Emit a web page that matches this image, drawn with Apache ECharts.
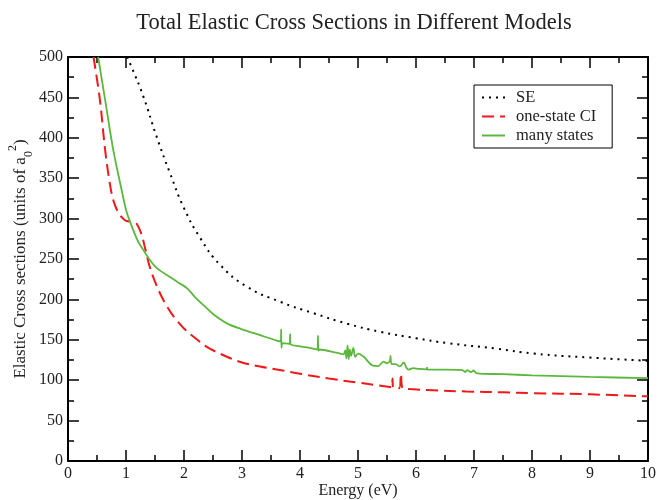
<!DOCTYPE html>
<html>
<head>
<meta charset="utf-8">
<script src="https://cdn.jsdelivr.net/npm/echarts@6/dist/echarts.min.js"></script>
<style>html,body{margin:0;padding:0;background:#fff;}#c{width:658px;height:500px;}</style>
</head>
<body>
<div id="c"></div>
<script>
var chartTitle = 'Total Elastic Cross Sections in Different Models';
var seriesNames = ['SE', 'one-state CI', 'many states'];
var xTicks = [0,1,2,3,4,5,6,7,8,9,10];
var yTicks = [0,50,100,150,200,250,300,350,400,450,500];

var seData = [[1.02,500],[1.1,487],[1.3,451],[1.53,401],[1.76,356],[2.0,313],[2.28,276],[2.62,243],[3.08,216],[3.66,197],[4.23,183],[4.81,170],[5.38,160],[6.0,152],[6.53,146],[7.39,139],[8.02,133],[9.0,128],[10,124]];

var ciData = [[0.44,500],[0.55,447],[0.64,385],[0.72,344],[0.78,323],[0.87,307],[0.95,300],[1.01,297],[1.13,296],[1.19,293],[1.27,280],[1.33,263],[1.41,240],[1.5,222],[1.59,207],[1.7,192],[1.82,179],[2.0,164],[2.16,154],[2.4,141],[2.74,129],[3.0,122],[3.31,117],[3.7,112],[4.0,108],[4.5,102],[5.0,97],[5.3,94],[5.55,91.5],[5.585,91],[5.595,102],[5.605,91],[5.71,90],[5.74,108],[5.77,90],[5.9,89],[6.3,87.5],[6.87,86],[7.5,85],[8.0,84],[9.0,82.5],[10,80]];

var manyData = [[0.52,500],[0.64,447],[0.78,385],[0.92,337],[1.0,311],[1.07,296],[1.2,273],[1.3,261],[1.4,250],[1.5,241],[1.6,235],[1.75,228],[1.9,221],[2.05,214],[2.2,202],[2.35,192],[2.5,182],[2.75,170],[3.0,163],[3.3,156],[3.6,149],[3.67,148],[3.675,163],[3.68,140],[3.70,146],[3.82,145],[3.83,157],[3.835,145],[4.0,142],[4.2,139.5],[4.30,138],[4.31,155],[4.315,136.5],[4.33,138],[4.63,134],[4.75,132],[4.78,137],[4.80,127],[4.82,143],[4.84,126],[4.86,138],[4.88,130],[4.92,140],[4.95,129],[5.0,133],[5.1,129],[5.2,121],[5.26,118],[5.35,117.5],[5.44,123],[5.5,121],[5.55,124],[5.56,130],[5.58,120],[5.65,120],[5.72,117],[5.79,122],[5.83,116],[5.87,113],[5.95,115],[6.05,114],[6.18,113.5],[6.19,115.5],[6.2,113],[6.5,113],[6.8,112.5],[6.85,110],[6.88,112.5],[6.95,110],[6.99,112],[7.05,108.5],[7.5,107.5],[8.0,106],[9.0,104],[10,102.5]];

var serif = '"Liberation Serif", "DejaVu Serif", serif';
var chart = echarts.init(document.getElementById('c'));

function tickAxis(base) {
  return Object.assign({
    type: 'value',
    nameMoveOverlap: false,
    axisLine: { show: true, onZero: false, lineStyle: { color: '#000', width: 2 } },
    axisTick: { show: true, inside: true, length: 11, lineStyle: { color: '#000', width: 1.5 } },
    minorTick: { show: true, splitNumber: 2, length: 6, lineStyle: { color: '#000', width: 1.5 } },
    splitLine: { show: false },
    minorSplitLine: { show: false }
  }, base);
}

chart.setOption({
  animation: false,
  backgroundColor: '#fff',
  title: {
    text: chartTitle,
    left: 349, top: 7, textAlign: 'center',
    textStyle: { fontFamily: serif, fontSize: 22.5, fontWeight: 'normal', color: '#222' }
  },
  grid: { left: 68, right: 10, top: 57, bottom: 39, containLabel: false, outerBoundsMode: 'none' },
  legend: {
    left: 474, top: 85, orient: 'vertical',
    borderColor: '#000', borderWidth: 1, borderRadius: 0,
    padding: [4, 16, 4, 7],
    itemWidth: 23, itemHeight: 14, itemGap: 2,
    itemStyle: { opacity: 0 },
    textStyle: { fontFamily: serif, fontSize: 16.5, lineHeight: 15, color: '#222', padding: [0, 0, 0, 6] },
    data: seriesNames
  },
  xAxis: [
    tickAxis({
      min: 0, max: 10, interval: 1, position: 'bottom',
      name: 'Energy (eV)', nameLocation: 'middle', nameGap: 22,
      nameTextStyle: { fontFamily: serif, fontSize: 16, color: '#222' },
      axisLabel: { margin: 5, fontFamily: serif, fontSize: 16, color: '#222',
        formatter: function (v) { return xTicks.indexOf(v) >= 0 ? String(v) : ''; } }
    }),
    tickAxis({ min: 0, max: 10, interval: 1, position: 'top', axisLabel: { show: false } })
  ],
  yAxis: [
    tickAxis({
      min: 0, max: 500, interval: 50, position: 'left',
      name: 'Elastic Cross sections (units of a{sub|0}{sup|2})', nameLocation: 'middle', nameGap: 33,
      nameTextStyle: { fontFamily: serif, fontSize: 17, color: '#222', lineHeight: 28,
        rich: {
          sub: { fontFamily: serif, fontSize: 12, color: '#222', verticalAlign: 'bottom', lineHeight: 28 },
          sup: { fontFamily: serif, fontSize: 12, color: '#222', verticalAlign: 'top', lineHeight: 28 }
        } },
      axisLabel: { margin: 5, fontFamily: serif, fontSize: 16, color: '#222',
        formatter: function (v) { return yTicks.indexOf(v) >= 0 ? String(v) : ''; } }
    }),
    tickAxis({ min: 0, max: 500, interval: 50, position: 'right', axisLabel: { show: false } })
  ],
  series: [
    { name: seriesNames[0], type: 'line', data: seData, symbol: 'none', smooth: 0.5, clip: true,
      lineStyle: { color: '#000', width: 2, type: [2, 5] }, itemStyle: { color: '#000' } },
    { name: seriesNames[1], type: 'line', data: ciData, symbol: 'none', smooth: 0.35, clip: true,
      lineStyle: { color: '#f01818', width: 2, type: [12, 6] }, itemStyle: { color: '#f01818' } },
    { name: seriesNames[2], type: 'line', data: manyData, symbol: 'none', smooth: 0.3, clip: true,
      lineStyle: { color: '#5cb83c', width: 1.8 }, itemStyle: { color: '#5cb83c' } }
  ]
});
</script>
</body>
</html>
